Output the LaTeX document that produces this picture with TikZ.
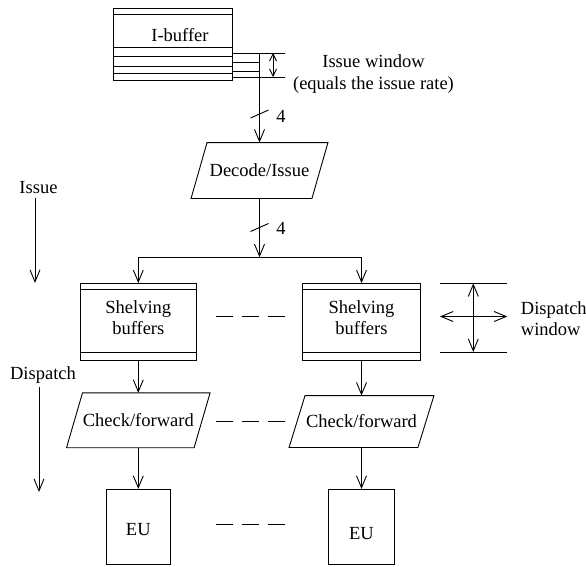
\documentclass[tikz,border=0pt]{standalone}
\usepackage{fontspec}
\setmainfont{Liberation Serif}
\usetikzlibrary{arrows.meta,calc}
\newcommand{\drawpara}[2]{\draw ($(#1.north west)+(#2,0)$) -- ($(#1.north east)+(#2,0)$) -- ($(#1.south east)+(-#2,0)$) -- ($(#1.south west)+(-#2,0)$) -- cycle;}
\begin{document}
\begin{tikzpicture}[x=1pt,y=-1pt,line width=0.9pt,
  >={Straight Barb[length=12pt,width=10pt]},
  smallarr/.style={{Straight Barb[length=7pt,width=7pt]}-{Straight Barb[length=7pt,width=7pt]}},
  txt/.style={font=\fontsize{18.5}{21}\selectfont,inner sep=0pt},
  boxn/.style={draw,inner sep=0pt},
  dsh/.style={dash pattern=on 17.5pt off 8.6pt}]
\useasboundingbox (0,0) rectangle (586,566);

% I-buffer
\node[boxn,minimum width=119pt,minimum height=71.7pt] (ib) at (172.8,44.15) {};
\foreach \d in {6.7,40,48.4,58.4,65.7}
  \draw ($(ib.north west)+(0,\d)$) -- ($(ib.north east)+(0,\d)$);
\node[txt] (ibt) at (180,35) {I-buffer};

% issue window
\coordinate (iwt) at (285,53);
\coordinate (iwb) at (285,77);
\coordinate (tap) at (259.5,53);
\coordinate (m1) at (259.5,62);
\coordinate (m2) at (259.5,71);
\coordinate (wa1) at (273,53);
\coordinate (wa2) at (273,77);
\draw (ib.east |- iwt) -- (iwt);
\draw (ib.east |- iwb) -- (iwb);
\draw (ib.east |- m1) -- (m1);
\draw (ib.east |- m2) -- (m2);
\draw[smallarr] (wa1) -- (wa2);
\node[txt,align=center,font=\fontsize{18.5}{22}\selectfont] (iwtext) at (373.5,74) {Issue window\\(equals the issue rate)};

% decode
\node[txt,minimum width=120pt,minimum height=55pt] (dec) at (259.5,170.5) {Decode/Issue};
\drawpara{dec}{8}
\draw[->] (tap) -- (dec.north);
\coordinate (s1) at (259.5,114);
\draw ($(s1)+(-9,4)$) -- ($(s1)+(9,-4)$);
\node[txt] (n1) at (281,116) {4};

\coordinate (split) at (259.5,257.3);
\draw[->] (dec.south) -- (split);
\coordinate (s2) at (259.5,227.5);
\draw ($(s2)+(-9,4)$) -- ($(s2)+(9,-4)$);
\node[txt] (n2) at (281,228) {4};

% shelving buffers
\node[boxn,minimum width=115.3pt,minimum height=76.5pt] (sb1) at (138.3,321.8) {};
\node[boxn,minimum width=118.3pt,minimum height=76.5pt] (sb2) at (361.5,321.8) {};
\foreach \n in {sb1,sb2} {
  \draw ($(\n.north west)+(0,6.7)$) -- ($(\n.north east)+(0,6.7)$);
  \draw ($(\n.south west)+(0,-8.3)$) -- ($(\n.south east)+(0,-8.3)$);
}
\node[txt,align=center] (sbt1) at ($(sb1.center)+(0,-4)$) {Shelving\\buffers};
\node[txt,align=center] (sbt2) at ($(sb2.center)+(0,-4)$) {Shelving\\buffers};
\draw (split -| sb1.north) -- (split -| sb2.north);
\draw[->] (split -| sb1.north) -- (sb1.north);
\draw[->] (split -| sb2.north) -- (sb2.north);

% check/forward
\node[txt,minimum width=126.7pt,minimum height=54pt] (ck1) at (138.3,420.3) {Check/forward};
\node[txt,minimum width=128pt,minimum height=51pt] (ck2) at (361.5,421.5) {Check/forward};
\drawpara{ck1}{8}
\drawpara{ck2}{8}
\draw[->] (sb1.south) -- (ck1.north);
\draw[->] (sb2.south) -- (ck2.north);

% EU
\node[boxn,minimum width=64.7pt,minimum height=74.7pt] (eu1) at (138.3,526.7) {};
\node[boxn,minimum width=66.6pt,minimum height=74.7pt] (eu2) at (361.5,526.7) {};
\node[txt] (eut1) at ($(eu1.center)+(0,3.3)$) {EU};
\node[txt] (eut2) at ($(eu2.center)+(0,6.5)$) {EU};
\draw[->] (ck1.south) -- (eu1.north);
\draw[->] (ck2.south) -- (eu2.north);

% dashes
\draw[dsh] (215.7,316.7) -- (285.4,316.7);
\draw[dsh] (215.7,421.7) -- (285.4,421.7);
\draw[dsh] (215.7,524.3) -- (285.4,524.3);

% dispatch window
\coordinate (dw1) at (440,283.3);
\coordinate (dw2) at (507.3,283.3);
\coordinate (dw3) at (440,352);
\coordinate (dw4) at (507.3,352);
\draw (dw1) -- (dw2);
\draw (dw3) -- (dw4);
\draw[<->] (473.3,283.3) -- (473.3,352);
\draw[<->] (440,316.5) -- (507.3,316.5);
\node[txt,anchor=west,align=left] (dwt) at (520.5,319) {Dispatch\\window};

% left labels
\node[txt] (iss) at (38.5,188) {Issue};
\coordinate (ia1) at (35,198);
\coordinate (ia2) at (35,283);
\draw[->] (ia1) -- (ia2);
\node[txt] (dsp) at (43,375) {Dispatch};
\coordinate (da1) at (39,387);
\coordinate (da2) at (39,492);
\draw[->] (da1) -- (da2);
\end{tikzpicture}
\end{document}
